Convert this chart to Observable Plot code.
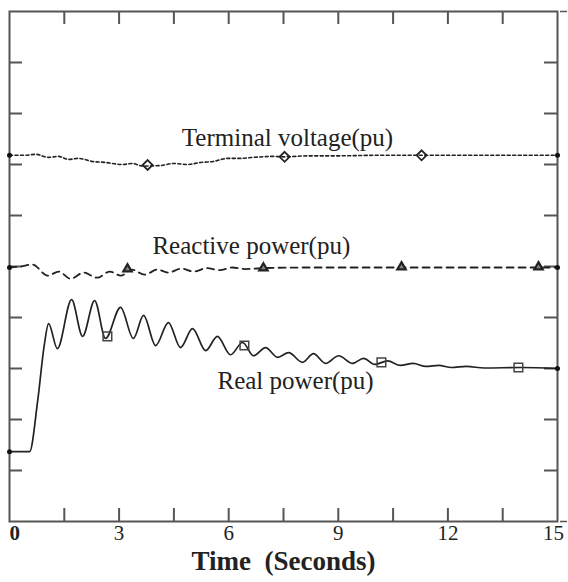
<!DOCTYPE html>
<html>
<head>
<meta charset="utf-8">
<script src="https://cdn.jsdelivr.net/npm/d3@7"></script>
<script src="https://cdn.jsdelivr.net/npm/@observablehq/plot@0.6"></script>
<style>
  html, body { margin: 0; padding: 0; background: #fff; }
</style>
</head>
<body>
<div id="chart"></div>
<script>
// ---- Data ----
// Real power (pu)
const realT = [0, 0.55, 0.77, 0.95, 1.07, 1.31, 1.70, 2.00, 2.33, 2.63, 3.04, 3.39, 3.67, 4.00, 4.35, 4.68, 5.01, 5.37, 5.69, 6.05, 6.38, 6.68, 7.01, 7.34, 7.64, 8.02, 8.32, 8.65, 9.01, 9.39, 9.69, 10.0, 10.35, 10.7, 11.05, 11.4, 11.75, 12.1, 12.5, 13.0, 14.0, 15.0];
const realV = [1.37, 1.37, 2.36, 3.45, 3.88, 3.39, 4.35, 3.63, 4.33, 3.59, 4.20, 3.59, 4.04, 3.45, 3.90, 3.41, 3.78, 3.35, 3.63, 3.27, 3.51, 3.25, 3.41, 3.22, 3.31, 3.12, 3.29, 3.10, 3.25, 3.10, 3.20, 3.08, 3.15, 3.06, 3.10, 3.04, 3.06, 3.02, 3.04, 3.01, 3.02, 3.00];
// Terminal voltage (pu)
const voltT = [0, 0.44, 0.71, 1.07, 1.34, 1.62, 1.89, 2.27, 2.63, 3.09, 3.37, 3.64, 4.13, 4.49, 4.87, 5.23, 5.58, 5.97, 6.32, 6.68, 7.23, 7.5, 8.2, 9.0, 10.0, 11.25, 15.0];
const voltV = [7.18, 7.18, 7.20, 7.14, 7.16, 7.10, 7.12, 7.06, 7.04, 7.00, 7.02, 6.97, 6.98, 7.02, 7.00, 7.04, 7.06, 7.12, 7.12, 7.14, 7.16, 7.15, 7.17, 7.17, 7.18, 7.18, 7.18];
// Reactive power (pu)
const reacT = [0, 0.3, 0.63, 1.04, 1.35, 1.67, 2.03, 2.40, 2.75, 3.05, 3.35, 3.70, 4.05, 4.35, 4.70, 5.05, 5.40, 5.75, 6.10, 6.45, 7.0, 8.0, 15.0];
const reacV = [4.98, 5.00, 5.04, 4.82, 4.90, 4.76, 4.88, 4.78, 4.90, 4.82, 4.94, 4.84, 4.94, 4.88, 4.96, 4.90, 4.97, 4.93, 4.98, 4.95, 4.97, 4.98, 4.98];

// Symbol markers
const voltMarkT = [3.78, 7.53, 11.28];
const voltMarkV = [6.99, 7.15, 7.18];
const reacMarkT = [3.23, 6.95, 10.73, 14.48];
const reacMarkV = [4.95, 4.97, 4.99, 4.99];
const realMarkT = [2.68, 6.43, 10.18, 13.93];
const realMarkV = [3.63, 3.45, 3.12, 3.02];

// Labels
const seriesLabels = ["Terminal voltage(pu)", "Reactive power(pu)", "Real power(pu)"];
const labelT = [7.61, 6.62, 7.83];
const labelV = [7.52, 5.40, 2.76];

// Axes
const xTickLabels = [0, 3, 6, 9, 12, 15];
const xMinorTicks = [1.5, 3, 4.5, 6, 7.5, 9, 10.5, 12, 13.5];
const yTicks = [1, 2, 3, 4, 5, 6, 7, 8, 9];
const xTitle = "Time  (Seconds)";

// ---- Build ----
const zip = (T, V) => T.map((t, i) => ({t, v: V[i]}));
const real = zip(realT, realV);
const volt = zip(voltT, voltV);
const reac = zip(reacT, reacV);
const ends = [real, volt, reac].flatMap(s => [s[0], s[s.length - 1]]);
const labels = seriesLabels.map((s, i) => ({s, t: labelT[i], v: labelV[i]}));

const axisColor = "#555";
const ink = "#222";

const chart = Plot.plot({
  width: 568,
  height: 582,
  marginTop: 11,
  marginRight: 11,
  marginBottom: 61,
  marginLeft: 9,
  x: {domain: [0, 15], axis: null},
  y: {domain: [0, 10], axis: null},
  style: {background: "#fff", fontFamily: "'Liberation Serif', serif", overflow: "visible"},
  marks: [
    Plot.frame({stroke: axisColor, strokeWidth: 2}),
    Plot.tickX(xMinorTicks, {x: d => d, stroke: axisColor, strokeWidth: 2, insetTop: 497}),
    Plot.tickX(xMinorTicks, {x: d => d, stroke: axisColor, strokeWidth: 2, insetBottom: 497}),
    Plot.tickY(yTicks, {y: d => d, stroke: axisColor, strokeWidth: 2, insetRight: 535}),
    Plot.tickY(yTicks, {y: d => d, stroke: axisColor, strokeWidth: 2, insetLeft: 535}),
    Plot.tickY([0, 10], {y: d => d, stroke: axisColor, strokeWidth: 1.5, insetLeft: 551, insetRight: -10}),

    Plot.line(volt, {x: "t", y: "v", curve: "monotone-x", stroke: ink, strokeWidth: 1.6, strokeDasharray: "3,2.5"}),
    Plot.line(reac, {x: "t", y: "v", curve: "monotone-x", stroke: ink, strokeWidth: 1.8, strokeDasharray: "7,5"}),
    Plot.line(real, {x: "t", y: "v", curve: "monotone-x", stroke: ink, strokeWidth: 1.7}),

    Plot.dot(zip(voltMarkT, voltMarkV), {x: "t", y: "v", symbol: "diamond2", r: 4.5, stroke: ink, strokeWidth: 1.8, fill: "none"}),
    Plot.dot(zip(reacMarkT, reacMarkV), {x: "t", y: "v", symbol: "triangle2", r: 4, stroke: ink, strokeWidth: 2.2, fill: "#888"}),
    Plot.dot(zip(realMarkT, realMarkV), {x: "t", y: "v", symbol: "square2", r: 5.5, stroke: "#444", strokeWidth: 1.5, fill: "none"}),
    Plot.dot(ends, {x: "t", y: "v", r: 2.5, fill: "#111", stroke: null}),

    Plot.text(labels, {x: "t", y: "v", text: "s", fontSize: 25, fill: ink}),

    Plot.text(xTickLabels.filter(d => d === 0), {x: d => d, frameAnchor: "bottom", dy: 18, text: d => String(d), textAnchor: "start", fontSize: 21, fontWeight: "bold", fill: "#222"}),
    Plot.text(xTickLabels.filter(d => d > 0 && d < 15), {x: d => d, frameAnchor: "bottom", dy: 18, text: d => String(d), fontSize: 21, fill: "#222"}),
    Plot.text(xTickLabels.filter(d => d === 15), {x: d => d, frameAnchor: "bottom", dy: 18, dx: -4, text: d => String(d), fontSize: 21, fill: "#222"}),
    Plot.text([xTitle], {frameAnchor: "bottom", dy: 48, text: d => d, fontSize: 27, fontWeight: "bold", fill: "#222"})
  ]
});
document.getElementById("chart").appendChild(chart);
</script>
</body>
</html>
